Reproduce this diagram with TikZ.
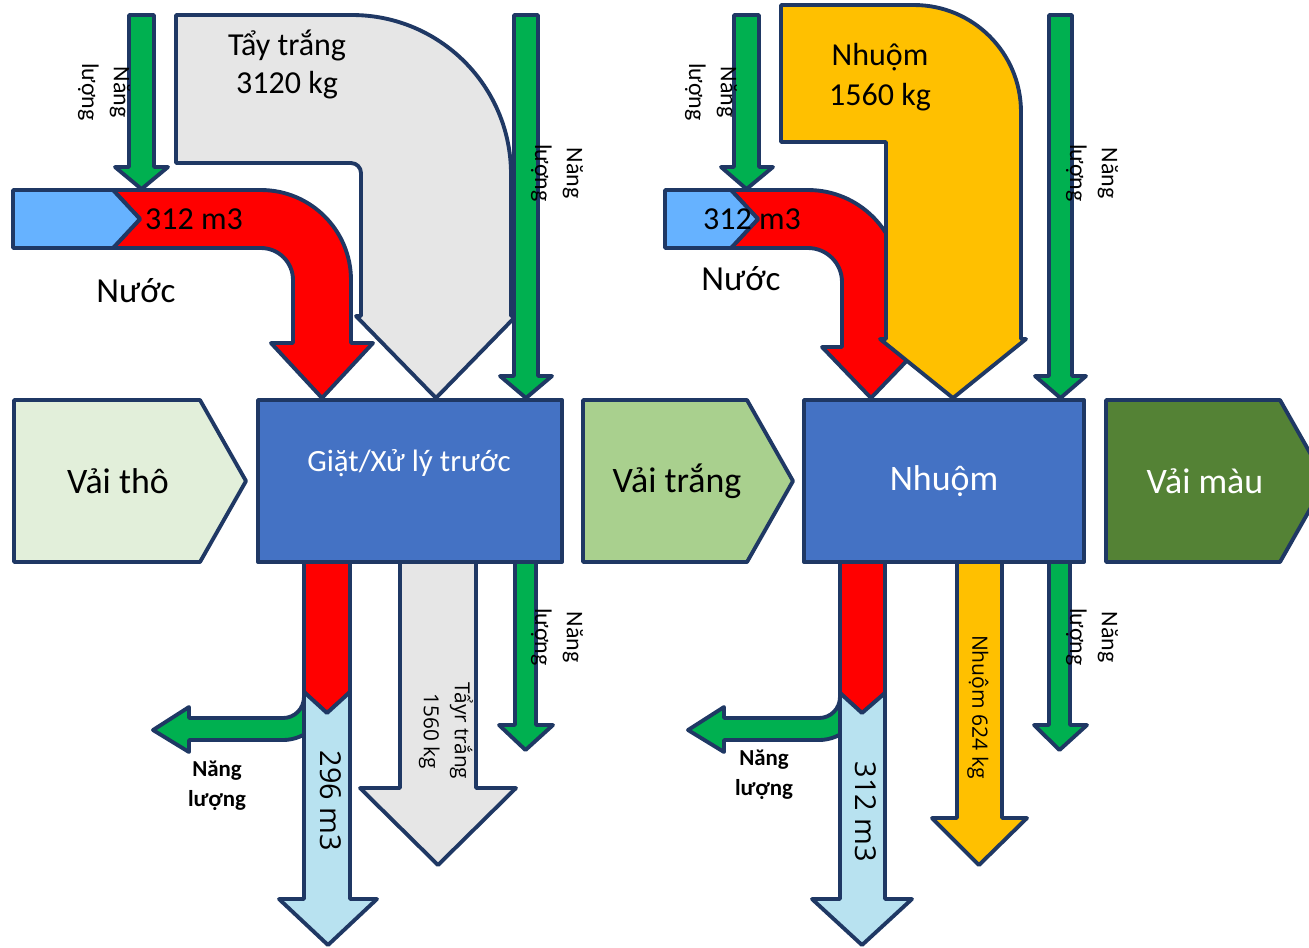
\documentclass[tikz,border=0pt]{standalone}
\usepackage{fontspec}
\setmainfont{Carlito}
\newfontfamily\osans{Open Sans}
\definecolor{navy}{RGB}{31,56,100}
\definecolor{grayf}{RGB}{230,230,230}
\definecolor{redf}{RGB}{255,0,0}
\definecolor{greenf}{RGB}{0,176,80}
\definecolor{yellowf}{RGB}{255,192,0}
\definecolor{waterin}{RGB}{102,178,255}
\definecolor{waterf}{RGB}{184,226,240}
\definecolor{procf}{RGB}{68,114,196}
\definecolor{rawf}{RGB}{226,239,218}
\definecolor{whitef}{RGB}{169,208,142}
\definecolor{colf}{RGB}{84,130,53}
\newcommand{\garrow}[7]{\draw[outl, fill=greenf] (#1,#3) -- (#2,#3) -- (#2,#4) -- (#6,#4) -- ({(#1+#2)/2},#7) -- (#5,#4) -- (#1,#4) -- cycle;}
\begin{document}
\begin{tikzpicture}[x=0.01cm,y=-0.01cm,line join=round,
  outl/.style={draw=navy,line width=1.1pt},
  txt/.style={inner sep=0pt,align=center,text=black},
  big/.style={font=\fontsize{9.1pt}{10.8pt}\selectfont},
  box/.style={font=\fontsize{10.2pt}{12pt}\selectfont},
  nl/.style={rotate=-90,font=\fontsize{6.8pt}{9pt}\selectfont},
  nlb/.style={font=\fontsize{6.5pt}{8.5pt}\selectfont\bfseries}]
\useasboundingbox (0,0) rectangle (1309,947);
\clip (0,0) rectangle (1309,947);
% ---------- top left group ----------
\draw[outl, fill=grayf] (176,15) -- (352,15) .. controls (439.8,15) and (511,86.2) .. (511,174) -- (511,316) -- (516,316) -- (436,398) -- (356,316) -- (361,316) -- (361,173) .. controls (361,167.5) and (356.5,163) .. (351,163) -- (176,163) -- cycle;
\draw[outl, fill=redf] (113,190) -- (261,190) .. controls (310.7,190) and (351,230.3) .. (351,280) -- (351,343) -- (373,343) -- (322,398) -- (271,343) -- (293,343) -- (293,280) .. controls (293,262.3) and (278.7,248) .. (261,248) -- (113,248) -- (140,219) -- cycle;
\draw[outl, fill=waterin] (13,190) -- (113,190) -- (140,219) -- (113,248) -- (13,248) -- cycle;
\garrow{129}{154}{15}{167}{115}{168}{189}
\garrow{514}{538}{15}{376}{500}{552}{398}
% ---------- top right group ----------
\draw[outl, fill=redf] (731,190) -- (808,190) .. controls (858.8,190) and (900,231.2) .. (900,282) -- (900,347) -- (920,347) -- (871,398) -- (822,347) -- (842,347) -- (842,282) .. controls (842,263.2) and (826.8,248) .. (808,248) -- (731,248) -- (758,219) -- cycle;
\draw[outl, fill=waterin] (665,190) -- (731,190) -- (758,219) -- (731,248) -- (665,248) -- cycle;
\draw[outl, fill=yellowf] (781,5) -- (914,5) .. controls (973.1,5) and (1021,52.9) .. (1021,112) -- (1021,339) -- (1026,339) -- (953,398) -- (880,339) -- (886,339) -- (886,142) -- (781,142) -- cycle;
\garrow{734}{759}{15}{167}{721}{773}{189}
\garrow{1049}{1072}{15}{376}{1035}{1086}{398}
% ---------- process row ----------
\draw[outl, fill=rawf] (14,400) -- (200,400) -- (246,481) -- (200,562) -- (14,562) -- cycle;
\draw[outl, fill=procf] (258,400) rectangle (562,562);
\draw[outl, fill=whitef] (583,400) -- (747,400) -- (793,481) -- (747,562) -- (583,562) -- cycle;
\draw[outl, fill=procf] (804,400) rectangle (1084,562);
\draw[outl, fill=colf] (1106,400) -- (1280,400) -- (1326,481) -- (1280,562) -- (1106,562) -- cycle;
% ---------- bottom left group ----------
\draw[outl, fill=greenf] (304,680) -- (304,697) .. controls (304,708.6) and (294.6,718) .. (283,718) -- (189,718) -- (189,707) -- (153,730) -- (189,752) -- (189,740) -- (283,740) .. controls (306.7,740) and (326,720.7) .. (326,697) -- (326,680) -- cycle;
\draw[outl, fill=redf] (304,562) -- (350,562) -- (350,692) -- (327,713) -- (304,692) -- cycle;
\draw[outl, fill=waterf] (304,692) -- (327,713) -- (350,692) -- (350,899) -- (377,899) -- (328,945) -- (279,899) -- (304,899) -- cycle;
\draw[outl, fill=grayf] (400,562) -- (476,562) -- (476,788) -- (516,788) -- (438,865) -- (360,788) -- (400,788) -- cycle;
\garrow{515}{536}{562}{725}{499}{553}{750}
% ---------- bottom right group ----------
\draw[outl, fill=greenf] (840,680) -- (840,697) .. controls (840,708.6) and (830.6,718) .. (819,718) -- (724,718) -- (724,707) -- (688,730) -- (724,752) -- (724,740) -- (819,740) .. controls (842.7,740) and (862,720.7) .. (862,697) -- (862,680) -- cycle;
\draw[outl, fill=redf] (840,562) -- (885,562) -- (885,693) -- (862,713) -- (840,693) -- cycle;
\draw[outl, fill=waterf] (840,693) -- (862,713) -- (885,693) -- (885,899) -- (912,899) -- (862,945) -- (812,899) -- (840,899) -- cycle;
\draw[outl, fill=yellowf] (957,562) -- (1002,562) -- (1002,818) -- (1027,818) -- (979,865) -- (932,818) -- (957,818) -- cycle;
\garrow{1049}{1070}{562}{725}{1034}{1087}{750}
% ---------- texts ----------
\node[txt,font=\fontsize{9.1pt}{10.8pt}\selectfont] (tt) at (287,64) {Tẩy trắng\\3120 kg};
\node[txt,font=\fontsize{9.1pt}{11.4pt}\selectfont] (ny) at (880,77) {Nhuộm\\1560 kg};
\node[txt,big] (w1) at (194,219) {312 m3};
\node[txt,big] (w2) at (752,219) {312 m3};
\node[txt,font=\fontsize{10pt}{12pt}\selectfont] (n1) at (136,291) {Nước};
\node[txt,font=\fontsize{10pt}{12pt}\selectfont] (n2) at (741,279) {Nước};
\node[txt,box] (vt) at (118,481) {Vải thô};
\node[txt,text=white,font=\fontsize{8.8pt}{10pt}\selectfont] (gx) at (409,463) {Giặt/Xử lý trước};
\node[txt,box] (vtr) at (677,481) {Vải trắng};
\node[txt,box,text=white] (nh) at (944,481) {Nhuộm};
\node[txt,box,text=white] (vm) at (1205,481) {Vải màu};
\node[txt,nl] (e1) at (104,92) {Năng\\lượng};
\node[txt,nl] (e2) at (557,173) {Năng\\lượng};
\node[txt,nl] (e3) at (711,92) {Năng\\lượng};
\node[txt,nl] (e4) at (1092,173) {Năng\\lượng};
\node[txt,nl] (e5) at (557,637) {Năng\\lượng};
\node[txt,nl] (e6) at (1092,637) {Năng\\lượng};
\node[txt,nlb] (b1) at (217,786) {Năng\\lượng};
\node[txt,nlb] (b2) at (764,775) {Năng\\lượng};
\node[txt,rotate=-90,font=\osans\fontsize{8.2pt}{10pt}\selectfont] (o1) at (331,801) {296 m3};
\node[txt,rotate=-90,font=\osans\fontsize{8.2pt}{10pt}\selectfont] (o2) at (866,812) {312 m3};
\node[txt,rotate=-90,font=\osans\fontsize{5.9pt}{8.8pt}\selectfont] (o3) at (446,731) {Tẩyr trắng\\1560 kg};
\node[txt,rotate=-90,font=\osans\fontsize{6pt}{8pt}\selectfont] (o4) at (978,707) {Nhuộm 624 kg};
\end{tikzpicture}
\end{document}
